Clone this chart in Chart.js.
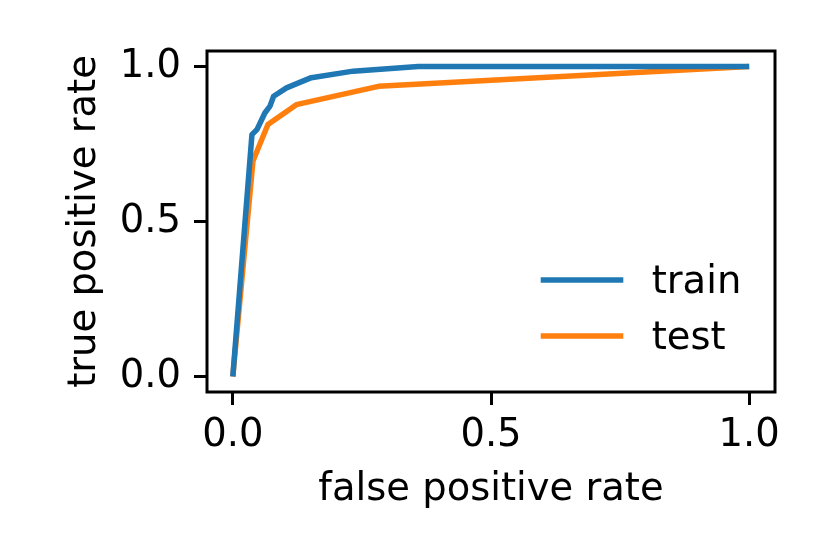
<!DOCTYPE html>
<html>
<head>
<meta charset="utf-8">
<script src="https://cdn.jsdelivr.net/npm/chart.js@4.4.1/dist/chart.umd.min.js"></script>
<style>
  html, body { margin: 0; padding: 0; background: #ffffff; }
  #wrap { width: 830px; height: 554px; }
</style>
</head>
<body>
<div id="wrap"><canvas id="c" width="830" height="554"></canvas></div>
<script>
// ---- data ----
const trainFpr = [0.0, 0.037, 0.047, 0.062, 0.072, 0.079, 0.104, 0.152, 0.233, 0.359, 1.0];
const trainTpr = [0.0, 0.780, 0.797, 0.850, 0.872, 0.904, 0.931, 0.964, 0.985, 1.0, 1.0];
const testFpr = [0.0, 0.039, 0.068, 0.123, 0.282, 1.0];
const testTpr = [0.0, 0.695, 0.813, 0.877, 0.936, 1.0];
const tickValues = [0.0, 0.5, 1.0];
const seriesNames = ['train', 'test'];
const seriesColors = ['#1f77b4', '#ff7f0e'];

function toPoints(xs, ys) { return xs.map((x, i) => ({ x: x, y: ys[i] })); }

const FONT_SIZE = 38.5;
Chart.defaults.font.family = 'DejaVu Sans';
Chart.defaults.font.size = FONT_SIZE;
Chart.defaults.color = '#000000';

const framePlugin = {
  id: 'frame',
  afterDraw(chart) {
    const { ctx, chartArea: a } = chart;
    ctx.save();
    ctx.strokeStyle = '#000';
    ctx.lineWidth = 3;
    ctx.strokeRect(a.left, a.top, a.right - a.left, a.bottom - a.top);
    ctx.restore();
  }
};

const legendPlugin = {
  id: 'innerLegend',
  afterDraw(chart) {
    const { ctx, chartArea: a } = chart;
    ctx.save();
    ctx.font = FONT_SIZE + 'px "DejaVu Sans"';
    ctx.textBaseline = 'alphabetic';
    ctx.textAlign = 'left';
    chart.data.datasets.forEach((ds, i) => {
      const y = a.bottom - 112 + i * 56;
      ctx.strokeStyle = ds.borderColor;
      ctx.lineWidth = 5.5;
      ctx.lineCap = 'butt';
      ctx.beginPath();
      ctx.moveTo(a.right - 234.3, y);
      ctx.lineTo(a.right - 151.7, y);
      ctx.stroke();
      ctx.fillStyle = '#000';
      ctx.fillText(ds.label, a.right - 123.3, y + 12.7);
    });
    ctx.restore();
  }
};

function fixTicks(scale) {
  scale.ticks = tickValues.map(v => ({ value: v }));
}

new Chart(document.getElementById('c'), {
  type: 'scatter',
  data: {
    datasets: [
      { label: seriesNames[0], data: toPoints(trainFpr, trainTpr), borderColor: seriesColors[0], backgroundColor: seriesColors[0] },
      { label: seriesNames[1], data: toPoints(testFpr, testTpr), borderColor: seriesColors[1], backgroundColor: seriesColors[1] }
    ]
  },
  options: {
    responsive: false,
    animation: false,
    devicePixelRatio: 1,
    showLine: true,
    elements: {
      line: { borderWidth: 5.5, tension: 0, borderCapStyle: 'butt', borderJoinStyle: 'round' },
      point: { radius: 0, hoverRadius: 0 }
    },
    layout: { padding: { left: 62, top: 51, right: 55, bottom: 40.5 } },
    plugins: { legend: { display: false }, tooltip: { enabled: false } },
    scales: {
      x: {
        type: 'linear',
        min: -0.05, max: 1.05,
        afterBuildTicks: fixTicks,
        afterFit(scale) { scale.height = 121.5; },
        border: { display: false },
        grid: { drawOnChartArea: false, drawTicks: true, tickLength: 13, tickWidth: 3, tickColor: '#000' },
        ticks: { padding: 8, maxRotation: 0, autoSkip: false, callback: v => Number(v).toFixed(1) },
        title: { display: true, text: 'false positive rate', padding: 0, font: { size: FONT_SIZE } }
      },
      y: {
        type: 'linear',
        min: -0.05, max: 1.05,
        afterBuildTicks: fixTicks,
        afterFit(scale) { scale.width = 145; },
        border: { display: false },
        grid: { drawOnChartArea: false, drawTicks: true, tickLength: 13, tickWidth: 3, tickColor: '#000' },
        ticks: { padding: 13, autoSkip: false, callback: v => Number(v).toFixed(1) },
        title: { display: true, text: 'true positive rate', padding: 0, font: { size: FONT_SIZE } }
      }
    }
  },
  plugins: [framePlugin, legendPlugin]
});
</script>
</body>
</html>
